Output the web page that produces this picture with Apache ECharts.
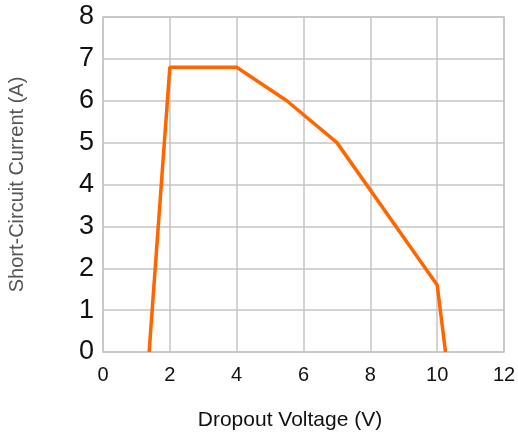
<!DOCTYPE html>
<html><head><meta charset="utf-8">
<script src="https://cdn.jsdelivr.net/npm/echarts@6/dist/echarts.min.js"></script>
<style>html,body{margin:0;padding:0;background:#fff}#c{width:518px;height:436px}</style>
</head><body><div id="c"></div>
<script>
const voltage = [1.38, 2.0, 4.0, 5.5, 7.0, 10.0, 10.25];
const current = [0, 6.8, 6.8, 6.0, 5.0, 1.6, 0];
const xTicks = [0, 2, 4, 6, 8, 10, 12];
const yTicks = [0, 1, 2, 3, 4, 5, 6, 7, 8];

const chart = echarts.init(document.getElementById('c'));
chart.setOption({
  animation: false,
  grid: {left: 103, right: 14, top: 17, bottom: 84, show: true, borderColor: '#c4c4c4', borderWidth: 1.5,
         containLabel: false, outerBoundsMode: 'none'},
  xAxis: {
    type: 'value', min: xTicks[0], max: xTicks[xTicks.length-1], interval: 2,
    name: 'Dropout Voltage (V)', nameLocation: 'middle', nameGap: 58,
    nameTextStyle: {fontFamily: 'Liberation Sans', fontSize: 21, color: '#111', padding: [0, 27, 0, 0]},
    axisLine: {show: false}, axisTick: {show: false},
    axisLabel: {fontFamily: 'Liberation Sans', fontSize: 20, color: '#111', margin: 13},
    splitLine: {show: true, lineStyle: {color: '#c4c4c4', width: 1.5}}
  },
  yAxis: {
    type: 'value', min: yTicks[0], max: yTicks[yTicks.length-1], interval: 1,
    name: 'Short-Circuit Current (A)', nameLocation: 'middle', nameGap: 76,
    nameTextStyle: {fontFamily: 'Liberation Sans', fontSize: 20, color: '#555', padding: [0, 0, 0, 0]},
    axisLine: {show: false}, axisTick: {show: false},
    axisLabel: {fontFamily: 'Liberation Sans', fontSize: 27, color: '#111', margin: 9},
    splitLine: {show: true, lineStyle: {color: '#c4c4c4', width: 1.5}}
  },
  series: [{
    type: 'line', data: voltage.map((v, i) => [v, current[i]]),
    symbol: 'none', lineStyle: {color: '#ff6600', width: 3.5}
  }]
});
</script></body></html>
